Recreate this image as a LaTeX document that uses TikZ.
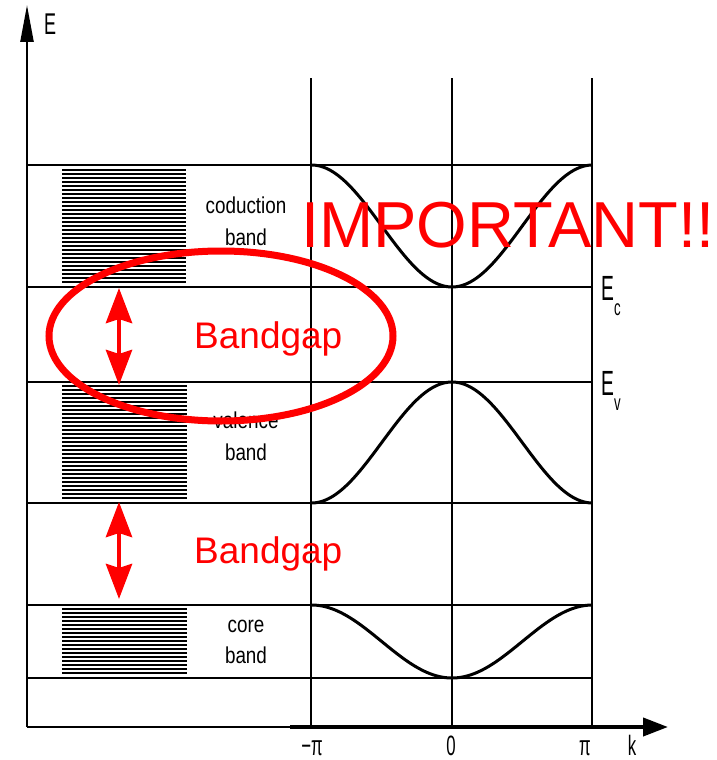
\documentclass[tikz,border=0pt]{standalone}
\usepackage{fontspec}
\usepackage{graphicx}
\setmainfont{Liberation Sans}
\usetikzlibrary{arrows.meta}
\newcommand\cnd[2]{\scalebox{#1}[1]{#2}}
\begin{document}
\begin{tikzpicture}[x=1pt,y=-1pt,
  bandline/.style={line width=1.8pt,black},
  gridline/.style={line width=1.3pt,black},
  curve/.style={line width=3pt,black,line join=round},
  hatch/.style={line width=2.5pt,black},
  lab/.style={inner sep=0pt,anchor=base,font=\fontsize{23}{23}\selectfont},
  tick/.style={inner sep=0pt,anchor=base,font=\fontsize{28}{28}\selectfont},
  redtxt/.style={inner sep=0pt,anchor=base west,text=red},
  gaparrow/.style={red,line width=4.5pt,{Stealth[length=35pt,width=26pt,inset=4pt]}-{Stealth[length=35pt,width=26pt,inset=4pt]}}]
\useasboundingbox (0,0) rectangle (716,760);
% axes
\coordinate (origin) at (27,727);
\coordinate (ytip) at (27,5);
\coordinate (kstart) at (290,727);
\coordinate (xtip) at (668,727);
\draw[line width=2.4pt,-{Triangle[length=37pt,width=13pt]}] (origin) -- (ytip);
\draw[line width=2pt] (origin) -- (kstart);
\draw[line width=4pt,-{Triangle[length=25pt,width=18pt]}] (kstart) -- (xtip);
% vertical grid lines
\foreach \xx/\nm in {311/mpi,452/zero,592/ppi}{
  \coordinate (\nm top) at (\xx,78);
  \coordinate (\nm bot) at (\xx,727);
  \draw[gridline] (\nm top) -- (\nm bot);
}
% horizontal band edges
\foreach \yy/\nm in {165/cb,287/ec,382/ev,503/vb,605/ct,678/cbot}{
  \coordinate (\nm L) at (27,\yy);
  \coordinate (\nm R) at (592,\yy);
  \draw[bandline] (\nm L) -- (\nm R);
}
% hatched boxes
\foreach \yy in {170,174,...,284}{\draw[hatch] (62,\yy) -- (186,\yy);}
\foreach \yy in {386,390,...,500}{\draw[hatch] (62,\yy) -- (187,\yy);}
\foreach \yy in {609,613,...,676}{\draw[hatch] (62,\yy) -- (187,\yy);}
% dispersion curves
\begin{scope}[shift={(452,226)}]
\draw[curve,domain=-1:1,samples=121,variable=\t] plot ({140.5*\t},{61*cos(180*\t)});
\end{scope}
\begin{scope}[shift={(452,442.5)}]
\draw[curve,domain=-1:1,samples=121,variable=\t] plot ({140.5*\t},{-60.5*cos(180*\t)});
\end{scope}
\begin{scope}[shift={(452,641.5)}]
\draw[curve,domain=-1:1,samples=121,variable=\t] plot ({140.5*\t},{36.5*cos(180*\t)});
\end{scope}
% labels
\node[lab] (cond1) at (246,213) {\cnd{0.82}{coduction}};
\node[lab] (cond2) at (246,245) {\cnd{0.82}{band}};
\node[lab] (val1) at (246,428) {\cnd{0.82}{valence}};
\node[lab] (val2) at (246,460) {\cnd{0.82}{band}};
\node[lab] (core1) at (246,632) {\cnd{0.82}{core}};
\node[lab] (core2) at (246,663) {\cnd{0.82}{band}};
\node[inner sep=0pt,anchor=base west,font=\fontsize{30}{30}\selectfont] (Elab) at (44,35) {\cnd{0.6}{E}};
\node[inner sep=0pt,anchor=base west,font=\fontsize{35}{35}\selectfont] (Ec) at (601,300) {\cnd{0.55}{E}};
\node[inner sep=0pt,anchor=base west,font=\fontsize{22}{22}\selectfont] (Ecs) at (614,315) {\cnd{0.6}{c}};
\node[inner sep=0pt,anchor=base west,font=\fontsize{35}{35}\selectfont] (Ev) at (601,395) {\cnd{0.55}{E}};
\node[inner sep=0pt,anchor=base west,font=\fontsize{22}{22}\selectfont] (Evs) at (614,410) {\cnd{0.6}{v}};
\node[tick] (tmpi) at (312,755) {\cnd{0.6}{−π}};
\node[tick] (tzero) at (451,755) {\cnd{0.6}{0}};
\node[tick] (tppi) at (585,755) {\cnd{0.6}{π}};
\node[tick] (tk) at (632,755) {\cnd{0.6}{k}};
% red annotations
\draw[red,line width=7pt] (221,336) ellipse [x radius=172, y radius=85];
\coordinate (g1top) at (119,288);
\coordinate (g1bot) at (119,385);
\coordinate (g2top) at (119,502);
\coordinate (g2bot) at (119,599);
\draw[gaparrow] (g1top) -- (g1bot);
\draw[gaparrow] (g2top) -- (g2bot);
\node[redtxt,font=\fontsize{37}{37}\selectfont] (bg1) at (194,348) {Bandgap};
\node[redtxt,font=\fontsize{37}{37}\selectfont] (bg2) at (194,563) {Bandgap};
\node[redtxt,font=\fontsize{65}{65}\selectfont] (imp) at (301,247) {IMPORTANT!!};
\end{tikzpicture}
\end{document}
